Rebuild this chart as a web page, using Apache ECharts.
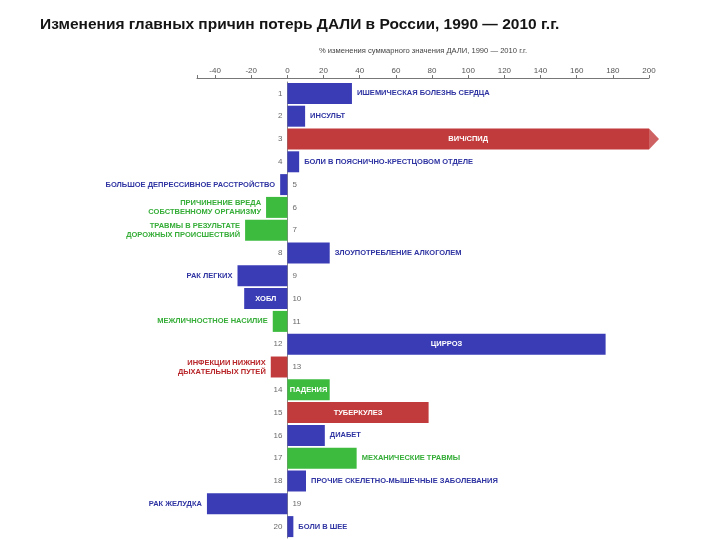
<!DOCTYPE html>
<html>
<head>
<meta charset="utf-8">
<script src="https://cdn.jsdelivr.net/npm/echarts@6/dist/echarts.min.js"></script>
<style>html,body{margin:0;padding:0;background:#fff}#c{width:720px;height:540px}</style>
</head>
<body>
<div id="c"></div>
<script>
// --- data ---
var ranks = ['1','2','3','4','5','6','7','8','9','10','11','12','13','14','15','16','17','18','19','20'];
var causes = [
  'ИШЕМИЧЕСКАЯ БОЛЕЗНЬ СЕРДЦА',
  'ИНСУЛЬТ',
  'ВИЧ/СПИД',
  'БОЛИ В ПОЯСНИЧНО-КРЕСТЦОВОМ ОТДЕЛЕ',
  'БОЛЬШОЕ ДЕПРЕССИВНОЕ РАССТРОЙСТВО',
  'ПРИЧИНЕНИЕ ВРЕДА\nСОБСТВЕННОМУ ОРГАНИЗМУ',
  'ТРАВМЫ В РЕЗУЛЬТАТЕ\nДОРОЖНЫХ ПРОИСШЕСТВИЙ',
  'ЗЛОУПОТРЕБЛЕНИЕ АЛКОГОЛЕМ',
  'РАК ЛЕГКИХ',
  'ХОБЛ',
  'МЕЖЛИЧНОСТНОЕ НАСИЛИЕ',
  'ЦИРРОЗ',
  'ИНФЕКЦИИ НИЖНИХ\nДЫХАТЕЛЬНЫХ ПУТЕЙ',
  'ПАДЕНИЯ',
  'ТУБЕРКУЛЕЗ',
  'ДИАБЕТ',
  'МЕХАНИЧЕСКИЕ ТРАВМЫ',
  'ПРОЧИЕ СКЕЛЕТНО-МЫШЕЧНЫЕ ЗАБОЛЕВАНИЯ',
  'РАК ЖЕЛУДКА',
  'БОЛИ В ШЕЕ'
];
// % change of total DALY, 1990-2010 (HIV/AIDS runs off the scale; shown truncated at 200 with an arrow)
var changes = [35.7, 9.8, 200, 6.5, -4.0, -11.8, -23.4, 23.4, -27.6, -23.9, -8.1, 176, -9.2, 23.4, 78.1, 20.7, 38.3, 10.3, -44.5, 3.3];
// group: n = non-communicable, c = communicable, i = injuries
var groups = ['n','n','c','n','n','i','i','n','n','n','i','n','c','i','c','n','i','n','n','n'];
var labelInside = [false,false,true,false,false,false,false,false,false,true,false,true,false,true,true,false,false,false,false,false];
var overflow = [false,false,true,false,false,false,false,false,false,false,false,false,false,false,false,false,false,false,false,false];
var tickValues = [-50,-40,-20,0,20,40,60,80,100,120,140,160,180,200];
var tickLabels = [-40,-20,0,20,40,60,80,100,120,140,160,180,200];

var barColors = {n:'#3a3cb6', c:'#c23b3c', i:'#3dbb3f'};
var textColors = {n:'#2f34a2', c:'#b8262a', i:'#35ad37'};
var FONT = '"Liberation Sans", Arial, sans-serif';

var barData = changes.map(function(v, i){
  var inside = labelInside[i];
  return {
    value: v,
    itemStyle: {color: barColors[groups[i]]},
    label: {
      show: true,
      position: inside ? 'inside' : (v >= 0 ? 'right' : 'left'),
      distance: 5,
      color: inside ? '#ffffff' : textColors[groups[i]],
      formatter: causes[i]
    }
  };
});
var rankData = changes.map(function(v, i){
  return {
    value: [0, ranks[i]],
    label: {position: v >= 0 ? 'left' : 'right'}
  };
});
var arrowData = [];
changes.forEach(function(v, i){ if (overflow[i]) arrowData.push({value:[v, ranks[i]], itemStyle:{color: barColors[groups[i]]}}); });

var chart = echarts.init(document.getElementById('c'), null, {renderer:'canvas'});
chart.setOption({
  backgroundColor: '#ffffff',
  animation: false,
  title: {
    text: 'Изменения главных причин потерь ДАЛИ в России, 1990 — 2010 г.г.',
    left: 35, top: 12,
    textStyle: {fontFamily: FONT, fontSize: 15.5, fontWeight: 'bold', color: '#151515'}
  },
  grid: {left: 197, right: 71, top: 82, bottom: 2, containLabel: false},
  xAxis: {
    type: 'value', position: 'top', min: -50, max: 200, offset: 4,
    name: '% изменения суммарного значения ДАЛИ, 1990 — 2010 г.г.',
    nameLocation: 'middle', nameGap: 23,
    nameTextStyle: {fontFamily: FONT, fontSize: 7.6, color: '#444'},
    axisLine: {show: true, lineStyle: {color: '#777', width: 1}},
    axisTick: {show: true, length: 3, lineStyle: {color: '#777'}, customValues: tickValues},
    axisLabel: {fontFamily: FONT, fontSize: 8, color: '#555', margin: 3, customValues: tickLabels},
    splitLine: {show: false}
  },
  yAxis: {
    type: 'category', data: ranks, inverse: true,
    axisLine: {show: true, onZero: true, lineStyle: {color: '#888', width: 1}},
    axisTick: {show: false},
    axisLabel: {show: false},
    splitLine: {show: false}
  },
  series: [
    {
      type: 'bar', data: barData, barCategoryGap: '8%',
      label: {fontFamily: FONT, fontSize: 7.5, fontWeight: 'bold', lineHeight: 9}
    },
    {
      type: 'scatter', data: rankData, symbolSize: 0, silent: true,
      label: {show: true, distance: 5, fontFamily: FONT, fontSize: 8, color: '#444',
        formatter: function(p){ return p.value[1]; }}
    },
    {
      type: 'scatter', data: arrowData, clip: false, silent: true,
      symbol: 'path://M0,0L10,10L0,20Z', symbolSize: [10, 21], symbolOffset: [5, 0]
    }
  ]
});
</script>
</body>
</html>
